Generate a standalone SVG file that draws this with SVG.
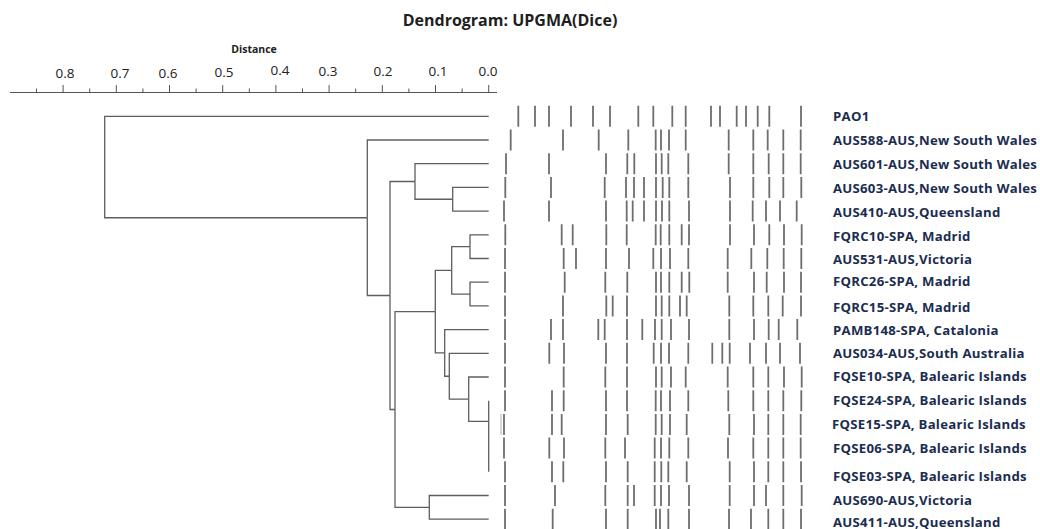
<svg xmlns="http://www.w3.org/2000/svg" width="1040" height="529" viewBox="0 0 1040 529">
<style>
.title{font-family:"Open Sans","Liberation Sans",sans-serif;font-weight:bold;font-size:16px;fill:#1e1e1e}
.axt{font-family:"Open Sans","Liberation Sans",sans-serif;font-weight:bold;font-size:10.5px;fill:#222}
.tick{font-family:"Open Sans","Liberation Sans",sans-serif;font-size:13.5px;fill:#222}
.lab{font-family:"Open Sans","Liberation Sans",sans-serif;font-weight:bold;font-size:13.2px;letter-spacing:0.25px;fill:#1b2d4f}
.ax{stroke:#555;stroke-width:1;fill:none}
.edge{stroke:#5e5e5e;stroke-width:1.3;fill:none}
.band{stroke:#6e6e6e;stroke-width:1.8;fill:none}
.faint{stroke:#bdbdbd;stroke-width:1.2;fill:none}
</style>
<rect width="1040" height="529" fill="#fff"/>
<text class="title" x="510" y="26" text-anchor="middle">Dendrogram: UPGMA(Dice)</text>
<g id="axis">
<text class="axt" x="254" y="53" text-anchor="middle">Distance</text>
<path class="ax" d="M10 92.5H497"/>
<path class="ax" d="M488.7 85V92.5M435.5 85V92.5M382.3 85V92.5M329.1 85V92.5M275.9 85V92.5M222.7 85V92.5M169.5 85V92.5M116.3 85V92.5M63.1 85V92.5"/>
<path class="ax" d="M462.1 88.5V92.5M408.9 88.5V92.5M355.7 88.5V92.5M302.5 88.5V92.5M249.3 88.5V92.5M196.1 88.5V92.5M142.9 88.5V92.5M89.7 88.5V92.5M36.5 88.5V92.5"/>
<text class="tick" x="65" y="78" text-anchor="middle">0.8</text>
<text class="tick" x="120" y="78" text-anchor="middle">0.7</text>
<text class="tick" x="168" y="78" text-anchor="middle">0.6</text>
<text class="tick" x="224" y="77" text-anchor="middle">0.5</text>
<text class="tick" x="280" y="75" text-anchor="middle">0.4</text>
<text class="tick" x="328" y="75.5" text-anchor="middle">0.3</text>
<text class="tick" x="383" y="76" text-anchor="middle">0.2</text>
<text class="tick" x="438" y="76" text-anchor="middle">0.1</text>
<text class="tick" x="488" y="76" text-anchor="middle">0.0</text>
</g>
<g id="connectors">
<path class="edge" d="M104.7 167V116.3H488.7"/>
<path class="edge" d="M104.7 167V217.75H367.3"/>
<path class="edge" d="M367.3 217.75V140H488.7"/>
<path class="edge" d="M367.3 217.75V295.5H390"/>
<path class="edge" d="M390 295.5V181.5H415"/>
<path class="edge" d="M390 295.5V409.5H395"/>
<path class="edge" d="M415 181.5V163.7H488.7"/>
<path class="edge" d="M415 181.5V199.25H452.7"/>
<path class="edge" d="M452.7 199.25V187.4H488.7"/>
<path class="edge" d="M452.7 199.25V211.1H488.7"/>
<path class="edge" d="M395 409.5V311.6H435.3"/>
<path class="edge" d="M395 409.5V507.35H429.3"/>
<path class="edge" d="M429.3 507.35V495.5H488.7"/>
<path class="edge" d="M429.3 507.35V519.2H488.7"/>
<path class="edge" d="M435.3 311.6V270.35H451.7"/>
<path class="edge" d="M435.3 311.6V352.9H444.7"/>
<path class="edge" d="M451.7 270.35V246.65H470"/>
<path class="edge" d="M451.7 270.35V294.05H470"/>
<path class="edge" d="M470 246.65V234.8H488.7"/>
<path class="edge" d="M470 246.65V258.5H488.7"/>
<path class="edge" d="M470 294.05V282.2H488.7"/>
<path class="edge" d="M470 294.05V305.9H488.7"/>
<path class="edge" d="M444.7 352.9V329.6H488.7"/>
<path class="edge" d="M444.7 352.9V376.25H449.3"/>
<path class="edge" d="M449.3 376.25V353.3H488.7"/>
<path class="edge" d="M449.3 376.25V399.2H468.7"/>
<path class="edge" d="M468.7 399.2V377H488.7"/>
<path class="edge" d="M468.7 399.2V421.4H488.7"/>
<path class="edge" d="M488.7 421.4V400.7"/>
<path class="edge" d="M488.7 421.4V471.8"/>
</g>
<g id="PAO1">
<path class="band" d="M518.3 105.8v21M535 105.8v21M549 105.8v21M571 105.8v21M593 105.8v21M610 105.8v21M638.3 105.8v21M653.3 105.8v21M672.3 105.8v21M685.7 105.8v21M711 105.8v21M720 105.8v21M736.7 105.8v21M746 105.8v21M757.7 105.8v21M769.3 105.8v21M801 105.8v21"/>
<text class="lab" x="833" y="121">PAO1</text>
</g>
<g id="AUS588">
<path class="band" d="M510.7 129.5v21M563 129.5v21M598.7 129.5v21M628.3 129.5v21M655.7 129.5v21M661 129.5v21M669 129.5v21M685.7 129.5v21M728.7 129.5v21M753.3 129.5v21M767.7 129.5v21M783.3 129.5v21M800.7 129.5v21"/>
<text class="lab" x="833" y="145">AUS588-AUS,New South Wales</text>
</g>
<g id="AUS601">
<path class="band" d="M506 153.2v21M549 153.2v21M606 153.2v21M627.3 153.2v21M634.3 153.2v21M656 153.2v21M661.7 153.2v21M668.3 153.2v21M688.3 153.2v21M728.7 153.2v21M753.3 153.2v21M768.7 153.2v21M783.3 153.2v21M800.7 153.2v21"/>
<text class="lab" x="833" y="169">AUS601-AUS,New South Wales</text>
</g>
<g id="AUS603">
<path class="band" d="M505.3 176.9v21M551 176.9v21M604.7 176.9v21M626 176.9v21M634 176.9v21M644 176.9v21M656 176.9v21M662.7 176.9v21M669.3 176.9v21M688.3 176.9v21M730 176.9v21M753.3 176.9v21M769.3 176.9v21M783.3 176.9v21M801.3 176.9v21"/>
<text class="lab" x="833" y="193">AUS603-AUS,New South Wales</text>
</g>
<g id="AUS410">
<path class="band" d="M504 200.6v21M549 200.6v21M606 200.6v21M626.7 200.6v21M632.7 200.6v21M644 200.6v21M656 200.6v21M662 200.6v21M669.3 200.6v21M689 200.6v21M730 200.6v21M752.7 200.6v21M766 200.6v21M780 200.6v21M796.7 200.6v21"/>
<text class="lab" x="833" y="217">AUS410-AUS,Queensland</text>
</g>
<g id="FQRC10">
<path class="band" d="M505.3 224.3v21M561.7 224.3v21M572.7 224.3v21M606.3 224.3v21M626.7 224.3v21M655.7 224.3v21M660.7 224.3v21M669.3 224.3v21M681.7 224.3v21M689 224.3v21M730 224.3v21M754 224.3v21M769.3 224.3v21M784 224.3v21M801.7 224.3v21"/>
<text class="lab" x="833" y="241">FQRC10-SPA, Madrid</text>
</g>
<g id="AUS531">
<path class="band" d="M505 248v21M563.7 248v21M576 248v21M606 248v21M629 248v21M653.3 248v21M661 248v21M670 248v21M688.3 248v21M727.7 248v21M751.3 248v21M767.3 248v21M783.7 248v21M801.3 248v21"/>
<text class="lab" x="833" y="264">AUS531-AUS,Victoria</text>
</g>
<g id="FQRC26">
<path class="band" d="M505 271.7v21M564.7 271.7v21M605.3 271.7v21M627.3 271.7v21M656 271.7v21M661 271.7v21M669.3 271.7v21M681.7 271.7v21M689.3 271.7v21M727.7 271.7v21M754 271.7v21M766.7 271.7v21M784 271.7v21M801 271.7v21"/>
<text class="lab" x="833" y="286">FQRC26-SPA, Madrid</text>
</g>
<g id="FQRC15">
<path class="band" d="M505 295.4v21M563 295.4v21M606.3 295.4v21M612.7 295.4v21M627 295.4v21M656 295.4v21M661.7 295.4v21M669.3 295.4v21M680 295.4v21M686.7 295.4v21M729.3 295.4v21M753.3 295.4v21M768.3 295.4v21M782.7 295.4v21M801 295.4v21"/>
<text class="lab" x="833" y="312">FQRC15-SPA, Madrid</text>
</g>
<g id="PAMB148">
<path class="band" d="M505 319.1v21M551 319.1v21M563 319.1v21M598.3 319.1v21M604.7 319.1v21M627 319.1v21M642.3 319.1v21M655 319.1v21M661.7 319.1v21M671 319.1v21M689 319.1v21M729.3 319.1v21M754 319.1v21M768.7 319.1v21M778.7 319.1v21M797.3 319.1v21"/>
<text class="lab" x="833" y="335">PAMB148-SPA, Catalonia</text>
</g>
<g id="AUS034">
<path class="band" d="M505 342.8v21M549.3 342.8v21M564 342.8v21M606 342.8v21M627 342.8v21M653.7 342.8v21M661 342.8v21M669 342.8v21M688.3 342.8v21M712.3 342.8v21M722.3 342.8v21M729.7 342.8v21M750 342.8v21M766 342.8v21M780 342.8v21M800 342.8v21"/>
<text class="lab" x="833" y="358">AUS034-AUS,South Australia</text>
</g>
<g id="FQSE10">
<path class="band" d="M505 366.5v21M563.7 366.5v21M605.3 366.5v21M627 366.5v21M656 366.5v21M661.7 366.5v21M671 366.5v21M685.7 366.5v21M727.7 366.5v21M753.3 366.5v21M768.3 366.5v21M784 366.5v21M801.7 366.5v21"/>
<text class="lab" x="833" y="381">FQSE10-SPA, Balearic Islands</text>
</g>
<g id="FQSE24">
<path class="band" d="M505 390.2v21M552 390.2v21M563.7 390.2v21M606 390.2v21M627 390.2v21M655.7 390.2v21M661 390.2v21M670 390.2v21M688.3 390.2v21M728.3 390.2v21M753.3 390.2v21M768.3 390.2v21M783.3 390.2v21M801.3 390.2v21"/>
<text class="lab" x="833" y="405">FQSE24-SPA, Balearic Islands</text>
</g>
<g id="FQSE15">
<path class="faint" d="M501 413.9v21"/>
<path class="band" d="M504 413.9v21M552 413.9v21M561.7 413.9v21M606 413.9v21M627.7 413.9v21M655.7 413.9v21M661.7 413.9v21M670 413.9v21M686.7 413.9v21M729.3 413.9v21M754 413.9v21M768.3 413.9v21M783.3 413.9v21M800.7 413.9v21"/>
<text class="lab" x="832" y="429">FQSE15-SPA, Balearic Islands</text>
</g>
<g id="FQSE06">
<path class="band" d="M504 437.6v21M549.3 437.6v21M564 437.6v21M605.3 437.6v21M625 437.6v21M654.7 437.6v21M661 437.6v21M669.3 437.6v21M688.3 437.6v21M728 437.6v21M753.3 437.6v21M768.3 437.6v21M783.3 437.6v21M800.7 437.6v21"/>
<text class="lab" x="833" y="453">FQSE06-SPA, Balearic Islands</text>
</g>
<g id="FQSE03">
<path class="band" d="M505 461.3v21M552 461.3v21M563.3 461.3v21M606 461.3v21M627.7 461.3v21M654.7 461.3v21M661.3 461.3v21M668.3 461.3v21M686.7 461.3v21M729.7 461.3v21M754 461.3v21M768.3 461.3v21M783.3 461.3v21M801 461.3v21"/>
<text class="lab" x="833" y="481">FQSE03-SPA, Balearic Islands</text>
</g>
<g id="AUS690">
<path class="band" d="M505 485v21M555 485v21M605.3 485v21M627.7 485v21M634 485v21M654.7 485v21M661 485v21M669 485v21M689 485v21M729.7 485v21M754 485v21M766 485v21M783.3 485v21M801.7 485v21"/>
<text class="lab" x="833" y="505">AUS690-AUS,Victoria</text>
</g>
<g id="AUS411">
<path class="band" d="M505 508.7v21M552.7 508.7v21M606 508.7v21M627.7 508.7v21M656 508.7v21M660 508.7v21M668.3 508.7v21M689 508.7v21M729 508.7v21M751 508.7v21M768.3 508.7v21M783.3 508.7v21M801 508.7v21"/>
<text class="lab" x="833" y="527">AUS411-AUS,Queensland</text>
</g>
</svg>
